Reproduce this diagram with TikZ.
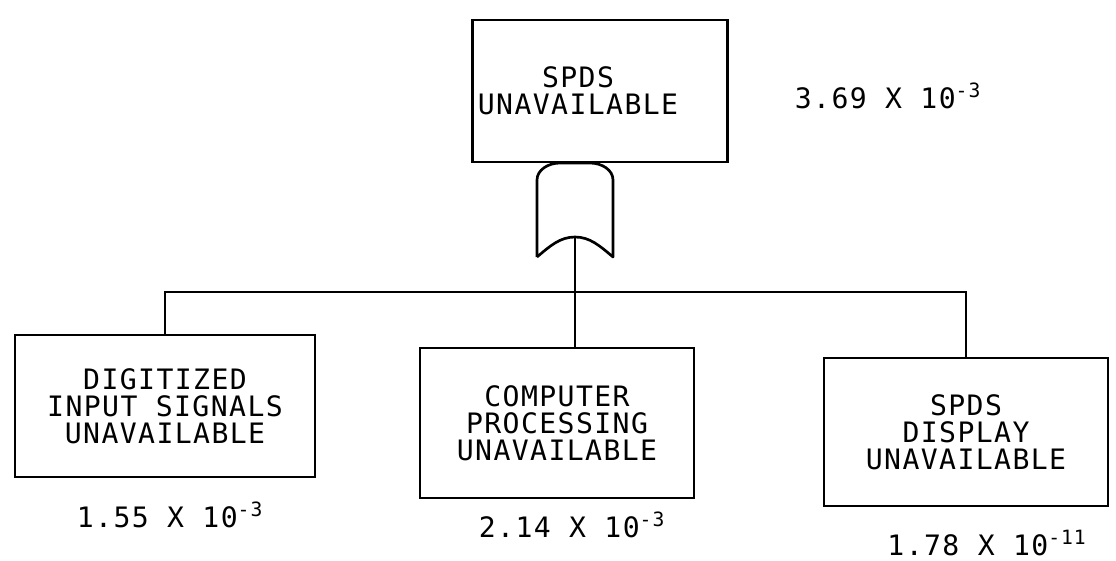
\documentclass[tikz,border=0pt]{standalone}
\usepackage{fontspec}
\newfontfamily\plotfont[LetterSpace=5]{DejaVu Sans Mono}
\begin{document}
\begin{tikzpicture}[x=0.025cm,y=-0.025cm,
  event/.style={draw,line width=1.9pt,align=center,inner sep=0pt,
    font=\plotfont\fontsize{20}{19.2}\selectfont},
  prob/.style={anchor=base,inner sep=0pt,font=\plotfont\fontsize{20}{19.2}\selectfont},
  wire/.style={line width=1.4pt}]
\useasboundingbox (0,0) rectangle (1116,560);

\node[event,minimum width=6.375cm,minimum height=3.55cm] (top) at (600,91) {SPDS\hspace*{1.1cm}\\UNAVAILABLE\hspace*{1.1cm}};
\node[event,minimum width=7.5cm,minimum height=3.55cm] (digit) at (165,406) {DIGITIZED\\INPUT SIGNALS\\UNAVAILABLE};
\node[event,minimum width=6.85cm,minimum height=3.75cm] (proc) at (557,423) {COMPUTER\\PROCESSING\\UNAVAILABLE};
\node[event,minimum width=7.1cm,minimum height=3.7cm] (disp) at (966,432) {SPDS\\DISPLAY\\UNAVAILABLE};

% or gate under the top event
\draw[line width=1.9pt,line join=round] (537,257) -- (537,180)
  .. controls (537,170) and (548,163) .. (560,163) -- (590,163)
  .. controls (602,163) and (613,170) .. (613,180) -- (613,257)
  .. controls (600,246) and (590,237) .. (575,237)
  .. controls (560,237) and (550,246) .. (537,257);
\coordinate (gatein) at (575,237);
\coordinate (bar) at (575,292);

\draw[wire] (gatein) -- (proc.north -| gatein);
\draw[wire] (digit.north) |- (bar) -| (disp.north);

\node[prob] (ptop) at (888,108) {3.69 X 10\textsuperscript{-3}};
\node[prob] (pdigit) at (170,527) {1.55 X 10\textsuperscript{-3}};
\node[prob] (pproc) at (572,537) {2.14 X 10\textsuperscript{-3}};
\node[prob] (pdisp) at (987,555) {1.78 X 10\textsuperscript{-11}};
\end{tikzpicture}
\end{document}
